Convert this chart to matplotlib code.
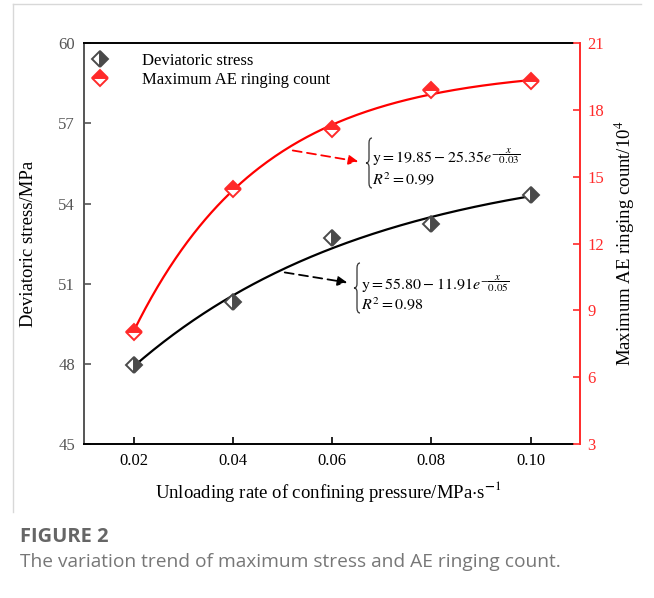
import matplotlib.pyplot as plt
import numpy as np
from matplotlib.lines import Line2D
from matplotlib.path import Path
from matplotlib.patches import PathPatch

# data
rate = np.array([0.02, 0.04, 0.06, 0.08, 0.10])
dev_stress = np.array([47.96, 50.30, 52.73, 53.24, 54.33])
ae_count = np.array([8.05, 14.47, 17.16, 18.88, 19.29])

x_ticks = [0.02, 0.04, 0.06, 0.08, 0.10]
x_ticklabels = ['0.02', '0.04', '0.06', '0.08', '0.10']
left_ticks = [45, 48, 51, 54, 57, 60]
right_ticks = [3, 6, 9, 12, 15, 18, 21]

plt.rcParams['font.family'] = 'Liberation Serif'
plt.rcParams['mathtext.fontset'] = 'stix'

W, H = 654, 598
fig = plt.figure(figsize=(W / 100, H / 100), dpi=100)


def px(x, y):
    # pixel position -> figure fraction
    return x / W, 1 - y / H


def fit_exp(x, y):
    # y = a - b*exp(-x/c), least squares over a grid of c
    best = None
    for c in np.linspace(0.005, 0.3, 3000):
        A = np.column_stack([np.ones_like(x), -np.exp(-x / c)])
        coef = np.linalg.lstsq(A, y, rcond=None)[0]
        err = np.sum((A @ coef - y) ** 2)
        if best is None or err < best[0]:
            best = (err, coef[0], coef[1], c)
    return best[1:]


def brace(xr, y0, y1, w=6):
    # left curly brace, right edge at xr, from y0 (top) to y1 (bottom), pixels
    xm = xr - w / 2
    xt = xr - w
    ym = (y0 + y1) / 2
    pts = [(xr, y0), (xm, y0), (xm, y0 + 5),
           (xm, ym - 4),
           (xm, ym), (xt, ym),
           (xm, ym), (xm, ym + 4),
           (xm, y1 - 5),
           (xm, y1), (xr, y1)]
    codes = [Path.MOVETO, Path.CURVE3, Path.CURVE3,
             Path.LINETO,
             Path.CURVE3, Path.CURVE3,
             Path.CURVE3, Path.CURVE3,
             Path.LINETO,
             Path.CURVE3, Path.CURVE3]
    verts = [px(*p) for p in pts]
    fig.add_artist(PathPatch(Path(verts, codes), fill=False, lw=0.9,
                             edgecolor='#333333', transform=fig.transFigure))


l, b = px(84, 444)
r, t = px(572.7, 43.3)
ax = fig.add_axes([l, b, r - l, t - b])
ax2 = ax.twinx()

red = '#ff2a2a'
gray = '#4a4a4a'

xs = np.linspace(0.02, 0.10, 200)
a1, b1, c1 = fit_exp(rate, dev_stress)
a2, b2, c2 = fit_exp(rate, ae_count)
ax.plot(xs, a1 - b1 * np.exp(-xs / c1), color='black', lw=1.6, zorder=2)
ax2.plot(xs, a2 - b2 * np.exp(-xs / c2), color='red', lw=1.6, zorder=2)

h1, = ax.plot(rate, dev_stress, ls='none', marker='D', ms=8.5, mew=1.4,
              fillstyle='right', color=gray, markerfacecoloralt='white', zorder=3)
h2, = ax2.plot(rate, ae_count, ls='none', marker='D', ms=8.5, mew=1.4,
               fillstyle='top', color=red, markerfacecoloralt='white', zorder=3)

ax.set_xlim(0.01, 0.1085)
ax.set_ylim(45, 60)
ax2.set_ylim(3, 21)
ax.set_xticks(x_ticks)
ax.set_xticklabels(x_ticklabels)
ax.set_yticks(left_ticks)
ax2.set_yticks(right_ticks)

ax.tick_params(axis='both', direction='in', length=5, width=1.2, labelsize=12, pad=6.5)
ax.tick_params(axis='y', colors='#555555', labelcolor='#555555')
ax.tick_params(axis='x', colors='black')
ax2.tick_params(axis='y', direction='in', length=5, width=1.2, labelsize=12,
                colors=red, labelcolor=red, pad=5.5)

for s in ['top', 'bottom']:
    ax.spines[s].set_color('black')
    ax.spines[s].set_linewidth(1.4)
ax.spines['left'].set_color('#555555')
ax.spines['left'].set_linewidth(1.4)
ax.spines['right'].set_visible(False)
for s in ['top', 'bottom', 'left']:
    ax2.spines[s].set_visible(False)
ax2.spines['right'].set_color(red)
ax2.spines['right'].set_linewidth(1.4)
ax2.spines['right'].set_position(('outward', 5.2))

ax.set_xlabel('Unloading rate of confining pressure/MPa$\\cdot$s$^{\\mathbf{-}1}$', fontsize=13.5, labelpad=7)
ax.set_ylabel('Deviatoric stress/MPa', fontsize=13.5)
ax.yaxis.set_label_coords(-0.097, 0.5)
ax2.set_ylabel('Maximum AE ringing count/10$^4$', fontsize=13.5, labelpad=6)

ax.legend([h1, h2], ['Deviatoric stress', 'Maximum AE ringing count'],
          loc='upper left', bbox_to_anchor=(0.0157, 0.976), frameon=False,
          fontsize=12, handlelength=1, handletextpad=2.0, borderpad=0,
          borderaxespad=0, labelspacing=0.2, numpoints=1)

# fitted equations with arrows
ax.annotate('', xy=px(361, 162), xycoords='figure fraction',
            xytext=px(290, 150), textcoords='figure fraction',
            arrowprops=dict(arrowstyle='-|>', color='red', lw=1.3,
                            linestyle=(0, (5, 3)), mutation_scale=14))
ax.annotate('', xy=px(350, 283), xycoords='figure fraction',
            xytext=px(282, 272), textcoords='figure fraction',
            arrowprops=dict(arrowstyle='-|>', color='black', lw=1.3,
                            linestyle=(0, (5, 3)), mutation_scale=14))

brace(372, 138, 188)
fig.text(*px(372, 157), r'$\mathrm{y}=19.85-25.35e^{-\dfrac{x}{0.03}}$', fontsize=11.5, va='center')
fig.text(*px(372, 181), r'$R^2=0.99$', fontsize=11.5, va='center')

brace(360, 263, 313)
fig.text(*px(361, 284), r'$\mathrm{y}=55.80-11.91e^{-\dfrac{x}{0.05}}$', fontsize=11.5, va='center')
fig.text(*px(361, 306), r'$R^2=0.98$', fontsize=11.5, va='center')

# light frame of the figure panel
fig.add_artist(Line2D([13 / W, 13 / W], [1 - 4 / H, 1 - 512 / H], color='#d8d8d8', lw=1))
fig.add_artist(Line2D([13 / W, 641 / W], [1 - 4 / H, 1 - 4 / H], color='#d8d8d8', lw=1))

# caption
fig.text(*px(20, 537), 'FIGURE 2', fontsize=14.5, fontweight='bold', color='#666666',
         family='Open Sans', va='center')
fig.text(*px(20, 562), 'The variation trend of maximum stress and AE ringing count.',
         fontsize=13.8, color='#777777', family='Open Sans', va='center')

fig.savefig('out.png', dpi=100)
